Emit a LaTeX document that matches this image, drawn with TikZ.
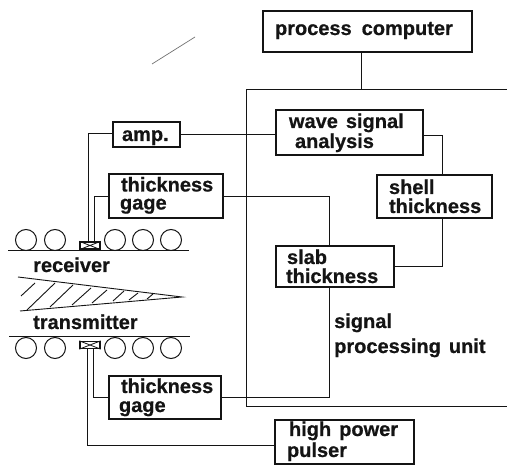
\documentclass[tikz,border=0pt]{standalone}
\usepackage{fontspec}
\setmainfont[BoldFeatures={FakeBold=0.6}]{Liberation Sans}
\newcommand\lbl[1]{\fontsize{20}{#1}\selectfont\bfseries\lineskiplimit=-100pt\relax}
% name, x0, y0, x1, y1, baseline skip, top-to-first-baseline, last-baseline-to-bottom, lines
\newcommand\bxnode[9]{%
  \pgfmathsetmacro\bxw{#4-#2}\pgfmathsetmacro\bxh{#5-#3}%
  \pgfmathsetmacro\bxx{(#2+#4)/2}\pgfmathsetmacro\bxy{(#3+#5)/2}%
  \node[bx, text width=\bxw pt, minimum height=\bxh pt, font=\lbl{#6}] (#1) at (\bxx,\bxy) {#9\rule[-#8pt]{0pt}{#8pt}};%
}
\tikzset{
  bx/.style={draw=ink, line width=1.1pt, inner xsep=0pt, inner ysep=0pt, align=left, text=ink, fill=white},
  wire/.style={draw=ink, line width=1pt},
  thinwire/.style={draw=ink, line width=0.8pt},
  txt/.style={anchor=base west, inner sep=0pt, text=ink, font=\lbl{25}, align=left},
  roller/.style={draw=ink, line width=1pt},
  sensor/.style={draw=ink, line width=1.3pt, minimum width=20pt, minimum height=7pt, inner sep=0pt},
  hatch/.style={draw=ink, line width=0.9pt}
}
\definecolor{ink}{gray}{0.08}
\begin{document}
\begin{tikzpicture}[x=1pt,y=-1pt]
\useasboundingbox (0,0) rectangle (507,465);
\fill[white] (0,0) rectangle (507,465);

% frame
\coordinate (ftl) at (246,90);
\coordinate (ftr) at (507,90);
\coordinate (fbl) at (246,407);
\coordinate (fbr) at (507,407);
\draw[wire] (ftr) -- (ftl) -- (fbl) -- (fbr);

% boxes
\bxnode{pc}{263}{11}{472}{52}{20}{24}{17}{\rule{0pt}{24pt}\hspace*{12pt}process\hspace{10pt}computer}
\bxnode{amp}{113}{122}{180}{147}{20}{19}{6}{\rule{0pt}{19pt}\hspace*{9pt}amp.}
\bxnode{wave}{276}{110}{423}{155}{20}{18}{7}{\rule{0pt}{18pt}\hspace*{13pt}wave\hspace{8pt}signal\\\hspace*{19pt}analysis}
\bxnode{shell}{377}{175}{492}{218}{19}{19}{5}{\rule{0pt}{19pt}\hspace*{12pt}shell\\\hspace*{12pt}thickness}
\bxnode{slab}{276}{246}{394}{287}{19}{18}{4}{\rule{0pt}{18pt}\hspace*{11pt}slab\\\hspace*{10pt}thickness}
\bxnode{gageA}{109}{174}{223}{218}{18}{17.5}{8.5}{\rule{0pt}{17.5pt}\hspace*{12pt}thickness\\\hspace*{11pt}gage}
\bxnode{gageB}{109}{376}{221}{419}{19}{17}{7}{\rule{0pt}{17pt}\hspace*{12pt}thickness\\\hspace*{10pt}gage}
\bxnode{pulser}{275}{420}{414}{464}{21}{16}{7}{\rule{0pt}{16pt}\hspace*{14pt}high\hspace{8pt}power\\\hspace*{12pt}pulser}

% sensors
\node[sensor] (sU) at (90,245.5) {};
\node[sensor] (sL) at (90,345) {};
\foreach \s in {sU,sL}{
  \draw[thinwire] (\s.north west) -- (\s.south east) (\s.south west) -- (\s.north east);
}

% connectors
\coordinate (pcj) at (361,90);
\draw[wire] (pcj |- pc.south) -- (pcj);
\draw[wire] (amp.east) -- (wave.west |- amp.east);
\coordinate (wr) at (442,135.5);
\draw[thinwire] (wave.east |- wr) -- (wr) -- (wr |- shell.north);
\coordinate (sr) at (442,267);
\draw[wire] (sr |- shell.south) -- (sr) -- (slab.east |- sr);
\coordinate (gt) at (329,197);
\draw[wire] (gageA.east |- gt) -- (gt) -- (gt |- slab.north);
\coordinate (gb) at (329,398);
\draw[wire] (gb |- slab.south) -- (gb) -- (gageB.east |- gb);

\coordinate (ampl) at (88,134);
\draw[wire] (amp.west |- ampl) -- (ampl) -- (ampl |- sU.north);
\coordinate (ga) at (94,197);
\draw[wire] (gageA.west |- ga) -- (ga) -- (ga |- sU.north);
\coordinate (gc) at (93,398);
\draw[wire] (gageB.west |- gc) -- (gc) -- (gc |- sL.south);
\coordinate (pl) at (87,446);
\draw[wire] (pulser.west |- pl) -- (pl) -- (pl |- sL.south);

% rollers and strand
\draw[wire] (8,251) -- (189,251);
\draw[wire] (9,337) -- (190,337);
\foreach \x in {26,55,115,143,171}{
  \draw[roller] (\x,240) circle (10.5);
  \draw[roller] (\x,348) circle (10.5);
}
\draw[hatch] (18,277) -- (182,297) -- (20,311);
\foreach \a/\b/\c/\d in {21/296/35/283, 27/310/55/283, 50/307/73/285, 72/305/91/288, 92/303/107/290, 113/301/124/291, 129/300/138/293, 147/299/153/294}{
  \draw[hatch] (\a,\b) -- (\c,\d);
}

% free labels
\node[txt] (rcv) at (33,272) {receiver};
\node[txt] (trm) at (33,329) {transmitter};
\node[txt] (spu) at (334,353) {signal\\processing\hspace{8pt}unit};

% scan stroke
\draw[draw=ink!60, line width=0.7pt] (152,64) -- (195,37);
\end{tikzpicture}
\end{document}
